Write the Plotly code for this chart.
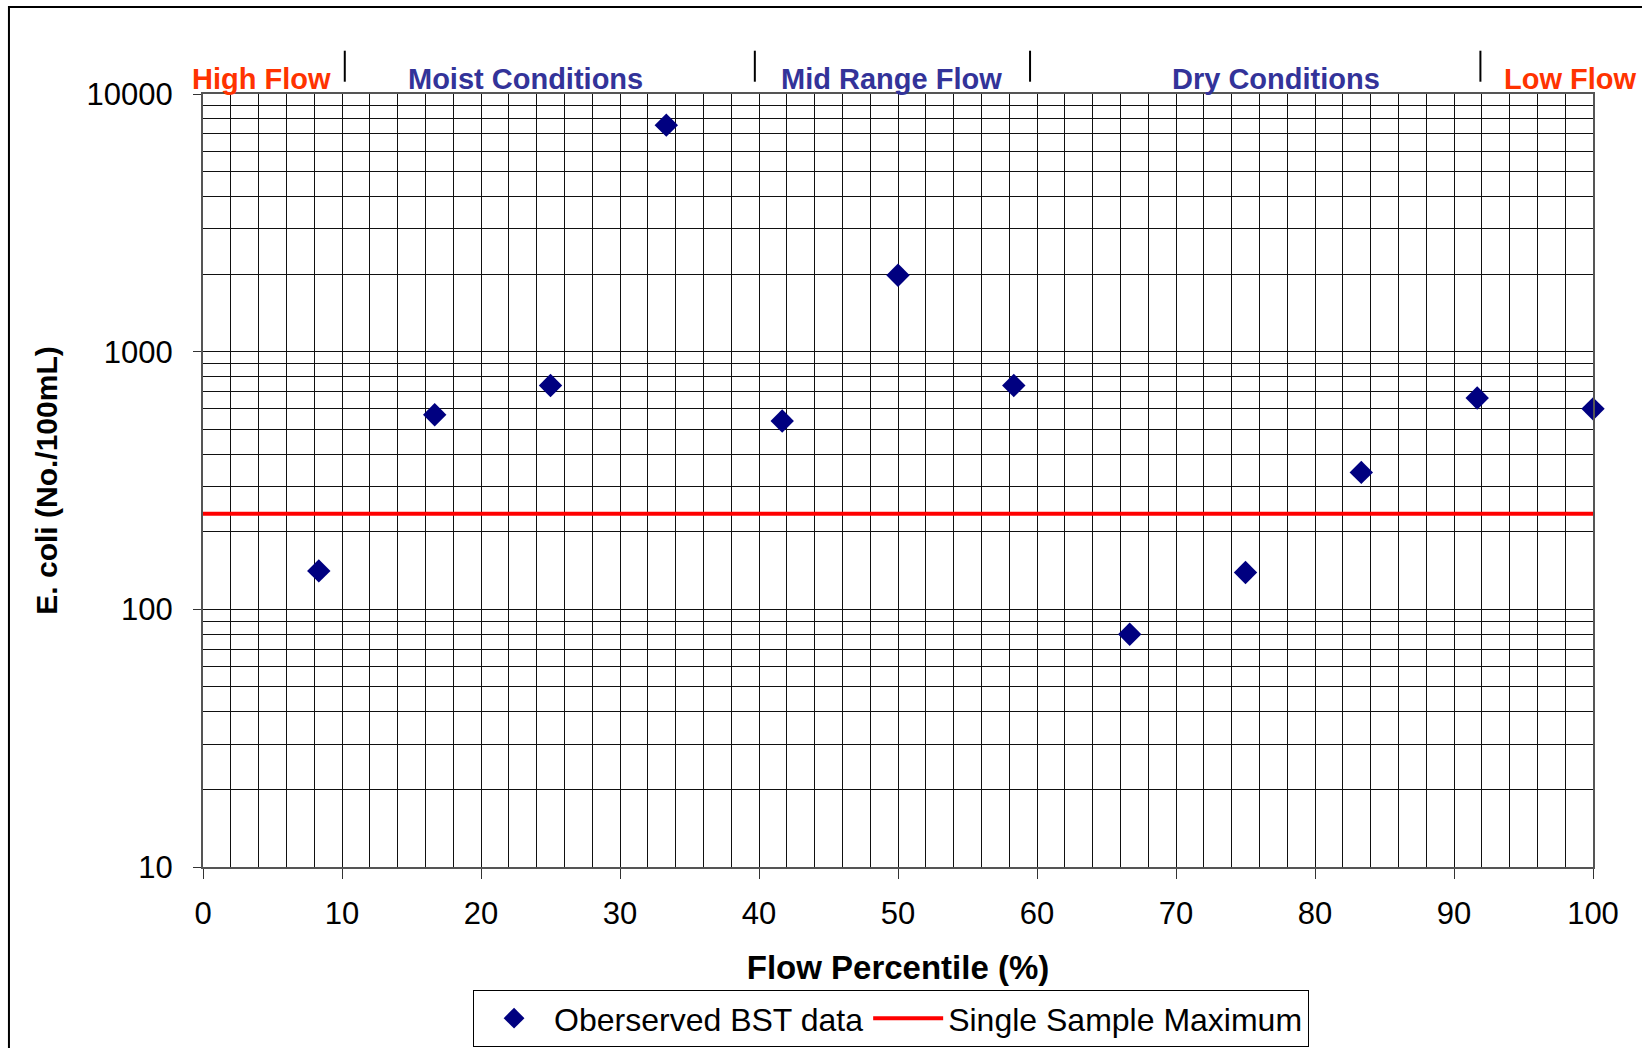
import plotly.graph_objects as go

# ---- data ----
flow_percentile = [8.33, 16.67, 25.0, 33.33, 41.67, 50.0, 58.33, 66.67, 75.0, 83.33, 91.67, 100.0]
ecoli = [141, 569, 739, 7570, 538, 1980, 739, 80, 139, 340, 661, 600]
ssm_x = [0, 100]
ssm_value = [235, 235]

region_labels = ["High Flow", "Moist Conditions", "Mid Range Flow", "Dry Conditions", "Low Flow"]
region_centers = [4.2, 23.2, 49.5, 77.2, 98.35]
region_colors = ["#FF3300", "#333399", "#333399", "#333399", "#FF3300"]
divider_x = [10.2, 39.7, 59.5, 91.9]

x_ticks = [0, 10, 20, 30, 40, 50, 60, 70, 80, 90, 100]
y_ticks = [10, 100, 1000, 10000]
y_minor = [m * d for d in (10, 100, 1000) for m in range(2, 10)]

FONT = "Liberation Sans, Arial, sans-serif"

fig = go.Figure()
fig.add_trace(go.Scatter(
    x=flow_percentile, y=ecoli, mode="markers", name="Oberserved BST data",
    marker=dict(symbol="diamond", size=18, color="#000080"),
    cliponaxis=False,
))
fig.add_trace(go.Scatter(
    x=ssm_x, y=ssm_value, mode="lines", name="Single Sample Maximum",
    line=dict(color="#FF0000", width=4),
))

annotations = []
for lab, cx, col in zip(region_labels, region_centers, region_colors):
    annotations.append(dict(
        text=f"<b>{lab}</b>", x=cx, xref="x", y=1.0194, yref="paper",
        xanchor="center", yanchor="middle", showarrow=False,
        font=dict(family=FONT, size=29, color=col),
    ))

shapes = [dict(type="line", xref="x", yref="paper", x0=dx, x1=dx, y0=1.0159, y1=1.056,
               line=dict(color="black", width=2)) for dx in divider_x]
shapes.append(dict(type="rect", xref="paper", yref="paper", x0=-0.1396, x1=1.2,
                   y0=-0.4, y1=1.1125, line=dict(color="black", width=2), layer="below"))

fig.update_layout(
    width=1642, height=1048,
    margin=dict(l=203, r=49, t=94, b=181, autoexpand=False),
    paper_bgcolor="white", plot_bgcolor="white",
    font=dict(family=FONT, color="black", size=31),
    showlegend=True,
    legend=dict(orientation="h", x=0.495, xanchor="center", y=-0.159, yanchor="top",
                bordercolor="black", borderwidth=1, font=dict(size=32, family=FONT),
                itemwidth=70, bgcolor="white"),
    annotations=annotations,
    shapes=shapes,
    xaxis=dict(
        range=[0, 100], tickvals=x_ticks, ticks="outside", ticklen=10, tickwidth=1,
        tickcolor="#333", showline=True, linecolor="#555", linewidth=2, mirror=True,
        showgrid=True, gridcolor="#111", gridwidth=1, zeroline=False, automargin=False,
        minor=dict(dtick=2, showgrid=True, gridcolor="#111", gridwidth=1, ticks=""),
        tickfont=dict(size=31, family=FONT), ticklabelstandoff=8,
        title=dict(text="<b>Flow Percentile (%)</b>", font=dict(size=33, family=FONT), standoff=26),
    ),
    yaxis=dict(
        type="log", range=[1, 4], tickvals=y_ticks, ticktext=[str(v) for v in y_ticks],
        ticks="outside", ticklen=8, tickwidth=1, tickcolor="#333",
        showline=True, linecolor="#555", linewidth=2, mirror=True,
        showgrid=True, gridcolor="#111", gridwidth=1, zeroline=False, automargin=False,
        minor=dict(tickvals=y_minor, showgrid=True, gridcolor="#111", gridwidth=1, ticks=""),
        tickfont=dict(size=31, family=FONT), ticklabelstandoff=14,
        title=dict(text="<b>E. coli (No./100mL)</b>", font=dict(size=30, family=FONT), standoff=20),
    ),
)

fig.write_html("out.html", config={"displayModeBar": False},
               post_script="document.body.style.margin='0';")
